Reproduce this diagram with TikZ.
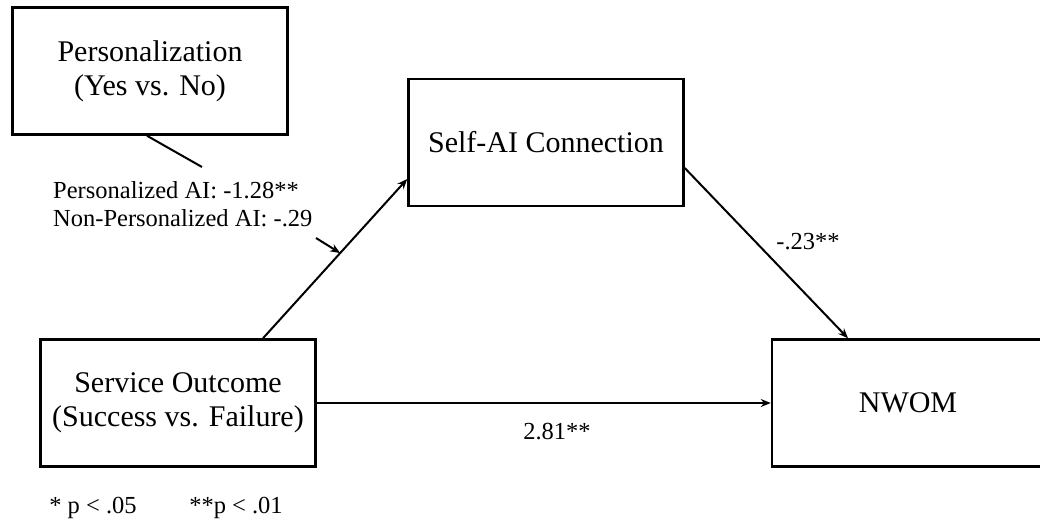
\documentclass[tikz,border=0pt]{standalone}
\usepackage{fontspec}
\setmainfont{Liberation Serif}
\usetikzlibrary{arrows.meta}
\tikzset{
  varbox/.style={
    draw=black, line width=2.5pt, fill=white,
    minimum width=275pt, minimum height=127pt, align=center,
    font=\fontsize{30}{34}\selectfont, inner sep=0pt
  },
  patharrow/.style={
    ->, line width=2pt, >={Stealth[length=10pt,width=8pt]}
  },
  coeflabel/.style={
    font=\fontsize{24.5}{28}\selectfont, inner sep=0pt, align=left
  }
}

\begin{document}
\begin{tikzpicture}[x=1pt, y=-1pt]
  \useasboundingbox (0,0) rectangle (1040,531);

  % Variable boxes
  \node[varbox] (pers) at (150,71)   {Personalization\\(Yes vs. No)};
  \node[varbox] (self) at (546,142.5) {Self-AI Connection};
  \node[varbox] (svc)  at (178,403)  {Service Outcome\\(Success vs. Failure)};
  \node[varbox, minimum width=272pt] (nwom) at (908,403) {NWOM};

  % Moderation
  \node[coeflabel, anchor=west] (modlbl) at (53,204)
      {Personalized AI: -1.28**\\Non-Personalized AI: -.29};
  \coordinate (modtop)  at (202,167);
  \coordinate (modtail) at (316,238);

  % Arrows
  \draw[patharrow] ([xshift=85pt]svc.north) -- ([yshift=-36.5pt]self.west)
      coordinate[pos=0.535] (modpt);
  \draw[patharrow] ([yshift=-25.5pt]self.east) -- ([xshift=-60pt]nwom.north);
  \draw[patharrow] (svc.east) -- (nwom.west);
  \draw[line width=2pt] ([xshift=-3pt]pers.south) -- (modtop);
  \draw[patharrow] (modtail) -- (modpt);

  % Coefficients
  \node[coeflabel] (b23)  at (808,242) {-.23**};
  \node[coeflabel] (b281) at (557,432) {2.81**};

  % Significance note
  \node[coeflabel] (sig1) at (93,508)  {* p < .05};
  \node[coeflabel] (sig2) at (236,508) {**p < .01};
\end{tikzpicture}
\end{document}
